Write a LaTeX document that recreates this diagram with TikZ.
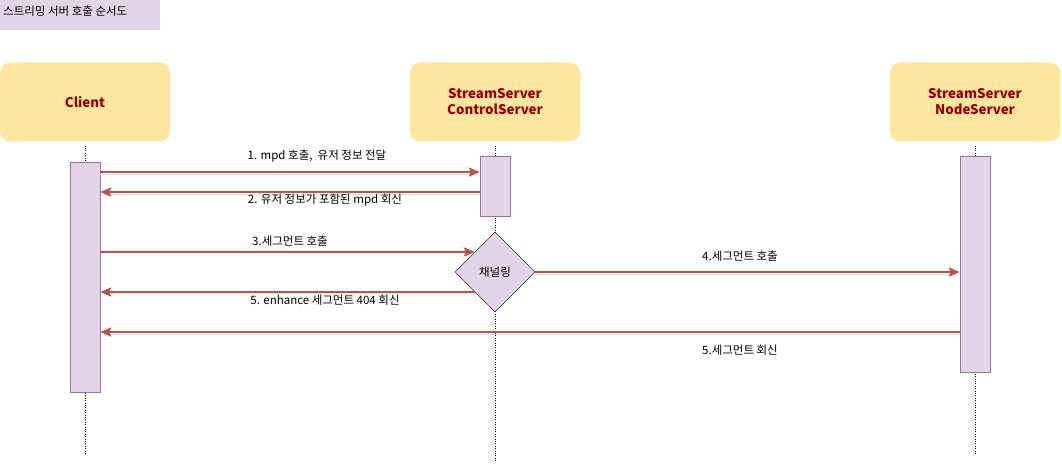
\documentclass[tikz,border=0pt]{standalone}
\usepackage{fontspec}
\setmainfont{Noto Sans CJK KR}
\usetikzlibrary{arrows.meta,shapes.geometric,calc}

\definecolor{actorfill}{RGB}{253,231,160}
\definecolor{actortext}{RGB}{153,0,0}
\definecolor{barfill}{RGB}{225,213,231}
\definecolor{bardraw}{RGB}{150,115,166}
\definecolor{msgred}{RGB}{184,84,80}

\tikzset{
    actor/.style = {fill=actorfill, rounded corners=10pt, minimum width=170pt, minimum height=79pt,
                    inner sep=0pt, align=center, text=actortext, font=\fontsize{13.3}{16}\selectfont\bfseries},
    actbar/.style = {draw=bardraw, fill=barfill, minimum width=30pt, inner sep=0pt},
    lifeline/.style = {dotted, color=black, thin},
    msg/.style = {draw=msgred, line width=2pt, -{Stealth[length=11pt,width=9pt,inset=2pt]},
                  preaction={draw=black!12, transform canvas={yshift=-2pt}}},
    lbl/.style = {font=\fontsize{11.5}{13}\selectfont, inner sep=1pt},
}

\begin{document}
\begin{tikzpicture}[x=1pt, y=-1pt]
    \useasboundingbox (0,0) rectangle (1062,465);

    % title
    \node[fill=barfill, minimum width=160pt, minimum height=30pt, inner sep=0pt, anchor=north west] (title) at (0,0) {};
    \node[lbl, anchor=west] (titletext) at (2,11) {스트리밍 서버 호출 순서도};

    % actors
    \node[actor] (client) at (85,102) {Client};
    \node[actor] (ctrl) at (495,102) {StreamServer\\ControlServer};
    \node[actor] (nodesrv) at (975,102) {StreamServer\\NodeServer};

    % lifelines
    \coordinate (cend) at (85,455);
    \coordinate (send) at (495,462);
    \coordinate (nend) at (975,455);
    \draw [lifeline] (client.south) ++(0,4) -- (cend);
    \draw [lifeline] (ctrl.south) ++(0,4) -- (send);
    \draw [lifeline] (nodesrv.south) ++(0,4) -- (nend);

    % activation bars
    \node[actbar, minimum height=230pt] (cbar) at (85,277) {};
    \node[actbar, minimum height=60pt] (sbar) at (495,186) {};
    \node[actbar, minimum height=216pt] (nbar) at (975,264) {};

    % channeling
    \node[diamond, draw=black, fill=barfill, minimum width=80pt, minimum height=80pt, inner sep=0pt,
          font=\fontsize{11.5}{13}\selectfont] (chan) at (495,272) {채널링};

    % message levels
    \coordinate (y1) at (0,172);
    \coordinate (y2) at (0,192);
    \coordinate (y3) at (0,252);
    \coordinate (y4) at (0,272);
    \coordinate (y5) at (0,292);
    \coordinate (y6) at (0,332);

    % messages
    \draw [msg] (cbar.east |- y1) -- (sbar.west |- y1);
    \node[lbl] (m1) at (317,156) {1. mpd 호출,\ \ 유저 정보 전달};

    \draw [msg] (sbar.west |- y2) -- (cbar.east |- y2);
    \node[lbl] (m2) at (325,200) {2. 유저 정보가 포함된 mpd 회신};

    \draw [msg] (cbar.east |- y3) -- ($(chan.north)!0.5!(chan.west)$);
    \node[lbl] (m3) at (290,241) {3.세그먼트 호출};

    \draw [msg] (chan.east) -- (nbar.west |- y4);
    \node[lbl] (m4) at (740,256) {4.세그먼트 호출};

    \draw [msg] ($(chan.south)!0.5!(chan.west)$) -- (cbar.east |- y5);
    \node[lbl] (m5) at (325,300) {5. enhance 세그먼트 404 회신};

    \draw [msg] (nbar.west |- y6) -- (cbar.east |- y6);
    \node[lbl] (m6) at (740,350) {5.세그먼트 회신};

\end{tikzpicture}
\end{document}
